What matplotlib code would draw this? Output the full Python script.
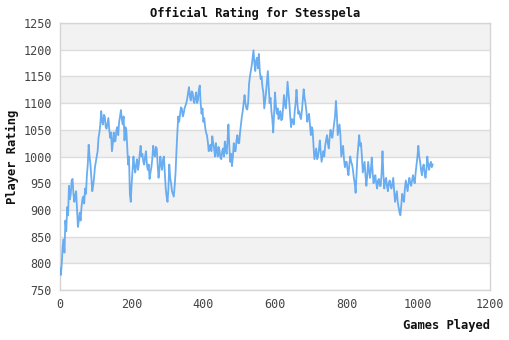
import matplotlib
matplotlib.use("Agg")
import matplotlib.pyplot as plt

title = "Official Rating for Stesspela"
x_label = "Games Played"
y_label = "Player Rating"

# one value every 2.5 games
ratings = [
    790, 778, 800, 832, 845, 820, 880, 860,
    905, 890, 945, 920, 930, 955, 958, 930,
    915, 928, 935, 900, 868, 880, 895, 880,
    905, 920, 925, 912, 940, 930, 965, 985,
    1022, 1000, 985, 960, 935, 945, 960, 980,
    990, 1000, 1010, 1035, 1045, 1060, 1085, 1065,
    1060, 1078, 1075, 1055, 1052, 1062, 1072, 1050,
    1035, 1045, 1010, 1025, 1045, 1028, 1030, 1050,
    1055, 1040, 1065, 1075, 1087, 1070, 1060, 1075,
    1030, 1055, 1050, 1020, 985, 1000, 930, 915,
    950, 975, 1000, 980, 970, 985, 995, 975,
    985, 1005, 1020, 1000, 1005, 990, 985, 1000,
    1010, 985, 975, 985, 958, 970, 980, 995,
    1020, 1005, 1000, 1018, 1015, 985, 960, 975,
    1000, 985, 975, 995, 1000, 970, 940, 925,
    915, 940, 985, 960, 950, 935, 930, 925,
    945, 970, 1010, 1045, 1075, 1065, 1078, 1092,
    1090, 1075, 1080, 1090, 1095, 1100, 1108, 1120,
    1130, 1112, 1105, 1122, 1120, 1105, 1100, 1112,
    1120, 1100, 1105, 1125, 1133, 1100, 1080, 1090,
    1065, 1072, 1055, 1045, 1040, 1028, 1010, 1020,
    1022, 1010, 1038, 1025, 1015, 1000, 1025, 1010,
    1000, 1018, 1012, 998, 995, 1010, 1015, 1000,
    1028, 1015, 1005, 1030, 1060, 1020, 990, 1005,
    982, 1000, 1025, 1010, 1010, 1030, 1040, 1025,
    1025, 1045, 1060, 1075, 1085, 1100, 1115, 1100,
    1090, 1088, 1100, 1135, 1150, 1160, 1170, 1185,
    1199, 1175, 1160, 1180, 1185, 1165, 1192, 1160,
    1145, 1150, 1130, 1120, 1090, 1105, 1120, 1140,
    1160, 1130, 1100, 1110, 1085, 1070, 1045, 1080,
    1120, 1095, 1080, 1090, 1070, 1080, 1085, 1068,
    1070, 1090, 1115, 1100, 1090, 1110, 1140, 1120,
    1100, 1075, 1055, 1070, 1068, 1060, 1085, 1100,
    1125, 1100, 1080, 1085, 1075, 1070, 1085, 1105,
    1126, 1110, 1100, 1085, 1065, 1075, 1080, 1060,
    1040, 1055, 1050, 1020, 995, 1005, 1015, 995,
    1000, 1012, 1030, 1010, 990, 1000, 1010, 1000,
    1020, 1030, 1040, 1025, 1015, 1035, 1050, 1040,
    1035, 1048, 1060, 1075, 1104, 1080, 1040, 1050,
    1060, 1040, 1000, 1010, 1020, 995, 980, 990,
    990, 975, 965, 985, 1000, 990, 985, 975,
    960, 950, 932, 965, 1000, 1020, 1040, 1020,
    1025, 1000, 970, 980, 990, 965, 945, 965,
    990, 975, 960, 975, 998, 970, 950, 960,
    965, 950, 940, 955, 958, 945, 945, 970,
    1010, 965, 940, 955, 960, 945, 935, 950,
    955, 945, 940, 950, 960, 935, 915, 925,
    935, 915, 905, 895, 890, 910, 930, 920,
    915, 940, 955, 945, 935, 950, 960, 950,
    945, 955, 965, 955, 950, 970, 985, 1000,
    1020, 1000, 990, 975, 965, 980, 985, 970,
    960, 975, 1000, 985, 975, 985, 990, 980,
    985,
]
games = [i * 2.5 for i in range(len(ratings))]

x_ticks = [0, 200, 400, 600, 800, 1000, 1200]
y_ticks = [750, 800, 850, 900, 950, 1000, 1050, 1100, 1150, 1200, 1250]

mono = "DejaVu Sans Mono"
fig = plt.figure(figsize=(5.1, 3.4), dpi=100)
ax = fig.add_axes([60/510, 50/340, 430/510, 267/340])

for lo in [800, 900, 1000, 1100, 1200]:
    ax.axhspan(lo, lo + 50, color="#f2f2f2", zorder=0, lw=0)
for y in y_ticks:
    ax.axhline(y, color="#dddddd", lw=1, zorder=1)

ax.plot(games, ratings, color="#5aa5f0", lw=1.3, alpha=0.9, zorder=3)

ax.set_xlim(0, 1200)
ax.set_ylim(750, 1250)
ax.set_xticks(x_ticks)
ax.set_yticks(y_ticks)
ax.tick_params(length=0, labelsize=8.5, colors="#444444", pad=6)
for lbl in ax.get_xticklabels() + ax.get_yticklabels():
    lbl.set_family(mono)
for s in ax.spines.values():
    s.set_color("#d5d5d5")
    s.set_linewidth(1)

fig.text(0.5, 1 - 13/340, title, ha="center", va="center",
         family=mono, fontweight="bold", fontsize=8.7, color="#111111")
fig.text(12/510, 1 - 157/340, y_label, ha="center", va="center", rotation=90,
         family=mono, fontweight="bold", fontsize=8.7, color="#111111")
fig.text(490/510, 1 - 326/340, x_label, ha="right", va="center",
         family=mono, fontweight="bold", fontsize=8.7, color="#111111")

fig.savefig("out.png", dpi=100)
